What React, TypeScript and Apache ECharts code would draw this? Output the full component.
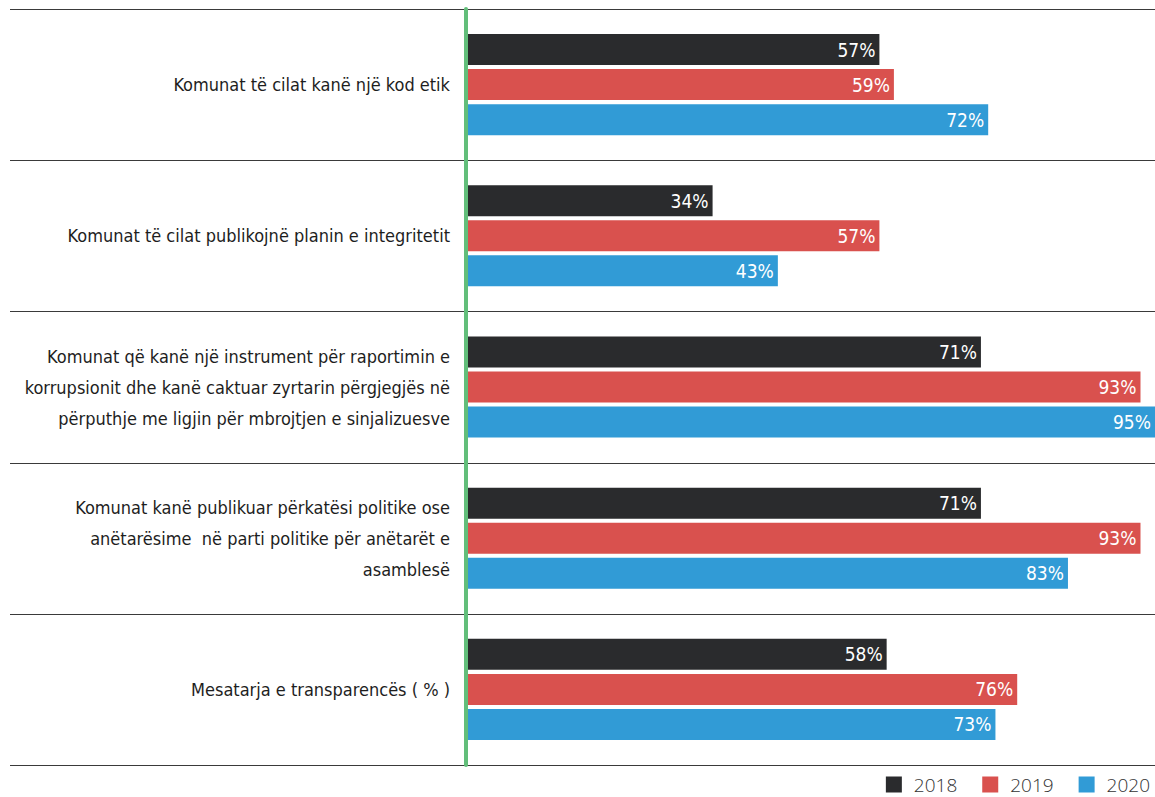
import React, { useEffect, useRef } from "react";
import * as echarts from "echarts";

const categories = [
  "Komunat të cilat kanë një kod etik",
  "Komunat të cilat publikojnë planin e integritetit",
  "Komunat që kanë një instrument për raportimin e\nkorrupsionit dhe kanë caktuar zyrtarin përgjegjës në\npërputhje me ligjin për mbrojtjen e sinjalizuesve",
  "Komunat kanë publikuar përkatësi politike ose\nanëtarësime  në parti politike për anëtarët e\nasamblesë",
  "Mesatarja e transparencës ( % )",
];
const years = ["2018", "2019", "2020"];
const values2018 = [57, 34, 71, 71, 58];
const values2019 = [59, 57, 93, 93, 76];
const values2020 = [72, 43, 95, 83, 73];
const colors = ["#2a2b2d", "#d9514e", "#319bd6"];

const FONT = "'Liberation Sans Narrow', 'DejaVu Sans Condensed', 'Roboto', sans-serif";

export default function App() {
  const ref = useRef<HTMLDivElement>(null);
  useEffect(() => {
    if (!ref.current) return;
    const chart = echarts.init(ref.current, undefined, { renderer: "svg" });
    const top = 9;
    const bottom = 765;
    const n = categories.length;
    const step = (bottom - top) / n;
    const sepLines = [];
    for (let i = 0; i <= n; i++) {
      const y = Math.round(top + i * step) + 0.5;
      sepLines.push({
        type: "line",
        shape: { x1: 10, y1: y, x2: 1155, y2: y },
        style: { stroke: "#3a3a3a", lineWidth: 1.2 },
        z: 1,
      });
    }
    const data = [values2018, values2019, values2020];
    chart.setOption({
      animation: false,
      grid: { left: 466, right: 0, top, bottom: 797 - bottom },
      xAxis: {
        type: "value",
        min: 0,
        max: 95,
        show: false,
      },
      yAxis: {
        type: "category",
        data: categories,
        inverse: true,
        axisLine: { show: true, lineStyle: { color: "#62be7a", width: 4 } },
        axisTick: { show: false },
        splitLine: { show: false },
        axisLabel: {
          margin: 16,
          fontFamily: FONT,
          fontSize: 18,
          lineHeight: 31,
          color: "#1e1e1e",
          align: "right",
        },
        z: 5,
      },
      legend: {
        data: years,
        right: 5,
        top: 775,
        padding: 0,
        itemWidth: 16,
        itemHeight: 16,
        itemGap: 25,
        icon: "rect",
        textStyle: {
          fontFamily: "'Open Sans', sans-serif",
          fontSize: 19,
          color: "#333",
          fontWeight: 300,
          padding: [0, 0, 0, 7],
        },
      },
      series: years.map((y, i) => ({
        name: y,
        type: "bar",
        data: data[i],
        barWidth: 31,
        barGap: "13%",
        barCategoryGap: "33%",
        itemStyle: { color: colors[i] },
        label: {
          show: true,
          position: "insideRight",
          formatter: "{c}%",
          color: "#fff",
          fontFamily: FONT,
          fontSize: 19,
          distance: 4,
        },
      })),
      graphic: sepLines,
    });
    return () => chart.dispose();
  }, []);
  return <div ref={ref} style={{ width: 1155, height: 797, position: "absolute", left: 0, top: 0 }} />;
}
